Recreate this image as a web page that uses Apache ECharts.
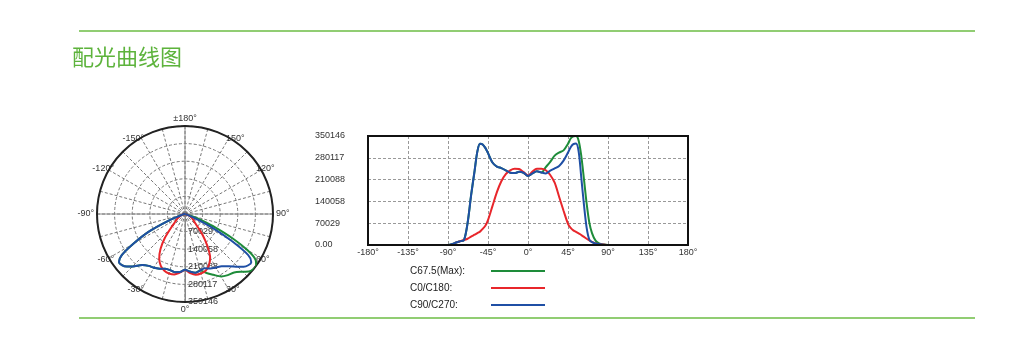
<!DOCTYPE html>
<html>
<head>
<meta charset="utf-8">
<title>配光曲线图</title>
<script src="https://cdn.jsdelivr.net/npm/echarts@6/dist/echarts.min.js"></script>
<style>
  html, body { margin: 0; padding: 0; background: #fff; }
  #chart { width: 1025px; height: 337px; }
</style>
</head>
<body>
<div id="chart"></div>
<script>
// gamma angle (deg) shared by all three C-planes
const gammaDeg = [-180, -90, -85, -80, -76, -72, -68, -64, -60, -57, -54, -51, -48, -45, -40, -35, -30, -25, -20, -15,
  -10, -5, 0, 5, 10, 15, 20, 25, 30, 35, 40, 45, 48, 51, 54, 57, 60, 63, 66, 69, 72, 76, 80, 85, 90, 180];

// intensity values
const c675Max = [0, 0, 3000, 9000, 12500, 16000, 70000, 160000, 240000, 300000, 325000, 323000, 312000, 295000, 265000, 252000, 247000, 240000, 232000, 231000,
  235000, 232000, 222000, 230000, 237000, 233000, 250000, 267000, 287000, 297000, 304000, 325000, 342000, 349000, 350146, 335000, 285000, 210000, 133000, 72000, 38000, 14000, 5000, 1500, 0, 0];
const c0c180 = [0, 0, 2000, 9000, 12500, 16000, 20000, 27000, 33000, 38000, 43000, 52000, 62000, 80000, 125000, 170000, 205000, 228000, 240000, 245000,
  244000, 234000, 223000, 236000, 245000, 245000, 240000, 225000, 200000, 155000, 110000, 68000, 55000, 47000, 42000, 37000, 32000, 26000, 20000, 15000, 10000, 5000, 3000, 1500, 0, 0];
const c90c270 = [0, 0, 3000, 9000, 12500, 16000, 70000, 160000, 240000, 300000, 325000, 323000, 312000, 295000, 265000, 252000, 247000, 240000, 232000, 231000,
  235000, 232000, 222000, 230000, 237000, 233000, 230000, 239000, 246000, 254000, 271000, 297000, 314000, 324000, 326000, 300000, 215000, 128000, 55000, 17000, 9000, 5000, 3000, 1000, 0, 0];

const seriesNames = ['C67.5(Max):', 'C0/C180:', 'C90/C270:'];
const seriesValues = [c675Max, c0c180, c90c270];
const seriesColors = ['#1e8c3a', '#e8262b', '#1f4fa5'];

const intensityTicks = [0, 70029, 140058, 210088, 280117, 350146];
const intensityStep = 70029.2;
const gammaTicks = [-180, -135, -90, -45, 0, 45, 90, 135, 180];

const labelFont = 'Liberation Sans';
const lineGreen = '#6cbd45';

const chart = echarts.init(document.getElementById('chart'));

function intensityLabel(v) {
  const i = Math.round(v / intensityStep);
  return i === 0 ? '0.00' : String(intensityTicks[i]);
}

function angleText(v) {
  if (v === 180) return '±180°';
  return (v > 180 ? v - 360 : v) + '°';
}

// diagonal labels (±30, ±60, ±120, ±150) sit on the circle, axis ones just outside
function diagLabel(v) {
  if (v % 30 !== 0 || v % 90 === 0) return '';
  return angleText(v);
}
function mainLabel(v) {
  if (v % 90 !== 0 || v === 360) return '';
  return angleText(v);
}

const series = [];
seriesNames.forEach((name, k) => {
  const vals = seriesValues[k];
  series.push({
    name: name,
    type: 'line',
    xAxisIndex: 0,
    yAxisIndex: 0,
    data: gammaDeg.map((g, i) => [g, vals[i]]),
    symbol: 'none',
    smooth: 0.3,
    color: seriesColors[k],
    lineStyle: { width: 2 }
  });
  series.push({
    name: name,
    type: 'line',
    coordinateSystem: 'polar',
    polarIndex: 0,
    data: gammaDeg.map((g, i) => [vals[i], g < 0 ? g + 360 : g]),
    symbol: 'none',
    smooth: 0.3,
    color: seriesColors[k],
    lineStyle: { width: 2 }
  });
});

const option = {
  animation: false,
  title: {
    text: '配光曲线图',
    left: 72,
    top: 46,
    padding: 0,
    textStyle: { fontSize: 22, fontWeight: 'normal', color: '#5db33c', fontFamily: 'Noto Sans CJK SC' }
  },
  graphic: [
    { type: 'line', shape: { x1: 79, y1: 31, x2: 975, y2: 31 }, style: { stroke: lineGreen, lineWidth: 1.5 } },
    { type: 'line', shape: { x1: 79, y1: 318, x2: 975, y2: 318 }, style: { stroke: lineGreen, lineWidth: 1.5 } }
  ],
  legend: {
    data: seriesNames,
    orient: 'vertical',
    left: 410,
    top: 266,
    align: 'right',
    icon: 'rect',
    itemWidth: 54,
    itemHeight: 2,
    itemGap: 7,
    padding: 0,
    formatter: name => '{t|' + name + '}',
    textStyle: {
      fontSize: 10, color: '#222', fontFamily: labelFont,
      rich: { t: { width: 76, align: 'left', fontSize: 10, lineHeight: 12, color: '#222', fontFamily: labelFont } }
    }
  },
  grid: {
    left: 368,
    right: 337,
    top: 136,
    bottom: 92,
    show: true,
    borderColor: '#111',
    borderWidth: 2,
    z: 5
  },
  xAxis: {
    type: 'value',
    min: gammaTicks[0],
    max: gammaTicks[gammaTicks.length - 1],
    interval: 45,
    axisLine: { show: false },
    axisTick: { show: false },
    axisLabel: { margin: 3, fontSize: 9, color: '#333', fontFamily: labelFont, formatter: v => v + '°' },
    splitLine: { showMinLine: false, showMaxLine: false, lineStyle: { color: '#999', type: [3, 2] } }
  },
  yAxis: {
    type: 'value',
    min: 0,
    max: intensityTicks[intensityTicks.length - 1],
    interval: intensityStep,
    axisLine: { show: false },
    axisTick: { show: false },
    axisLabel: { align: 'left', margin: 53, fontSize: 9, color: '#333', fontFamily: labelFont, formatter: intensityLabel },
    splitLine: { showMinLine: false, showMaxLine: false, lineStyle: { color: '#999', type: [3, 2] } }
  },
  polar: [
    { center: [185, 214], radius: 88 },
    { center: [185, 214], radius: 88 }
  ],
  angleAxis: [
    {
      polarIndex: 0,
      type: 'value',
      min: 0,
      max: 360,
      interval: 15,
      startAngle: 270,
      clockwise: false,
      axisLine: { lineStyle: { color: '#222', width: 2 } },
      axisTick: { show: false },
      axisLabel: { margin: -6, fontSize: 9, color: '#333', fontFamily: labelFont, formatter: diagLabel },
      splitLine: { lineStyle: { color: '#777', type: [3, 2] } }
    },
    {
      polarIndex: 1,
      type: 'value',
      min: 0,
      max: 360,
      interval: 90,
      startAngle: 270,
      clockwise: false,
      axisLine: { show: false },
      axisTick: { show: false },
      axisLabel: { margin: 3, fontSize: 9, color: '#333', fontFamily: labelFont, formatter: mainLabel },
      splitLine: { lineStyle: { color: '#888', width: 1 } }
    }
  ],
  radiusAxis: [
    {
      polarIndex: 0,
      type: 'value',
      min: 0,
      max: intensityTicks[intensityTicks.length - 1],
      interval: intensityStep,
      axisLine: { lineStyle: { color: '#888' } },
      axisTick: { show: false },
      axisLabel: {
        margin: 3, fontSize: 9, color: '#333', fontFamily: labelFont,
        formatter: v => (Math.round(v / intensityStep) === 0 ? '' : intensityLabel(v))
      },
      splitLine: { lineStyle: { color: '#777', type: [3, 2] } }
    },
    {
      polarIndex: 1,
      type: 'value',
      min: 0,
      max: intensityTicks[intensityTicks.length - 1],
      axisLine: { show: false },
      axisTick: { show: false },
      axisLabel: { show: false },
      splitLine: { show: false }
    }
  ],
  series: series
};

chart.setOption(option);
</script>
</body>
</html>
